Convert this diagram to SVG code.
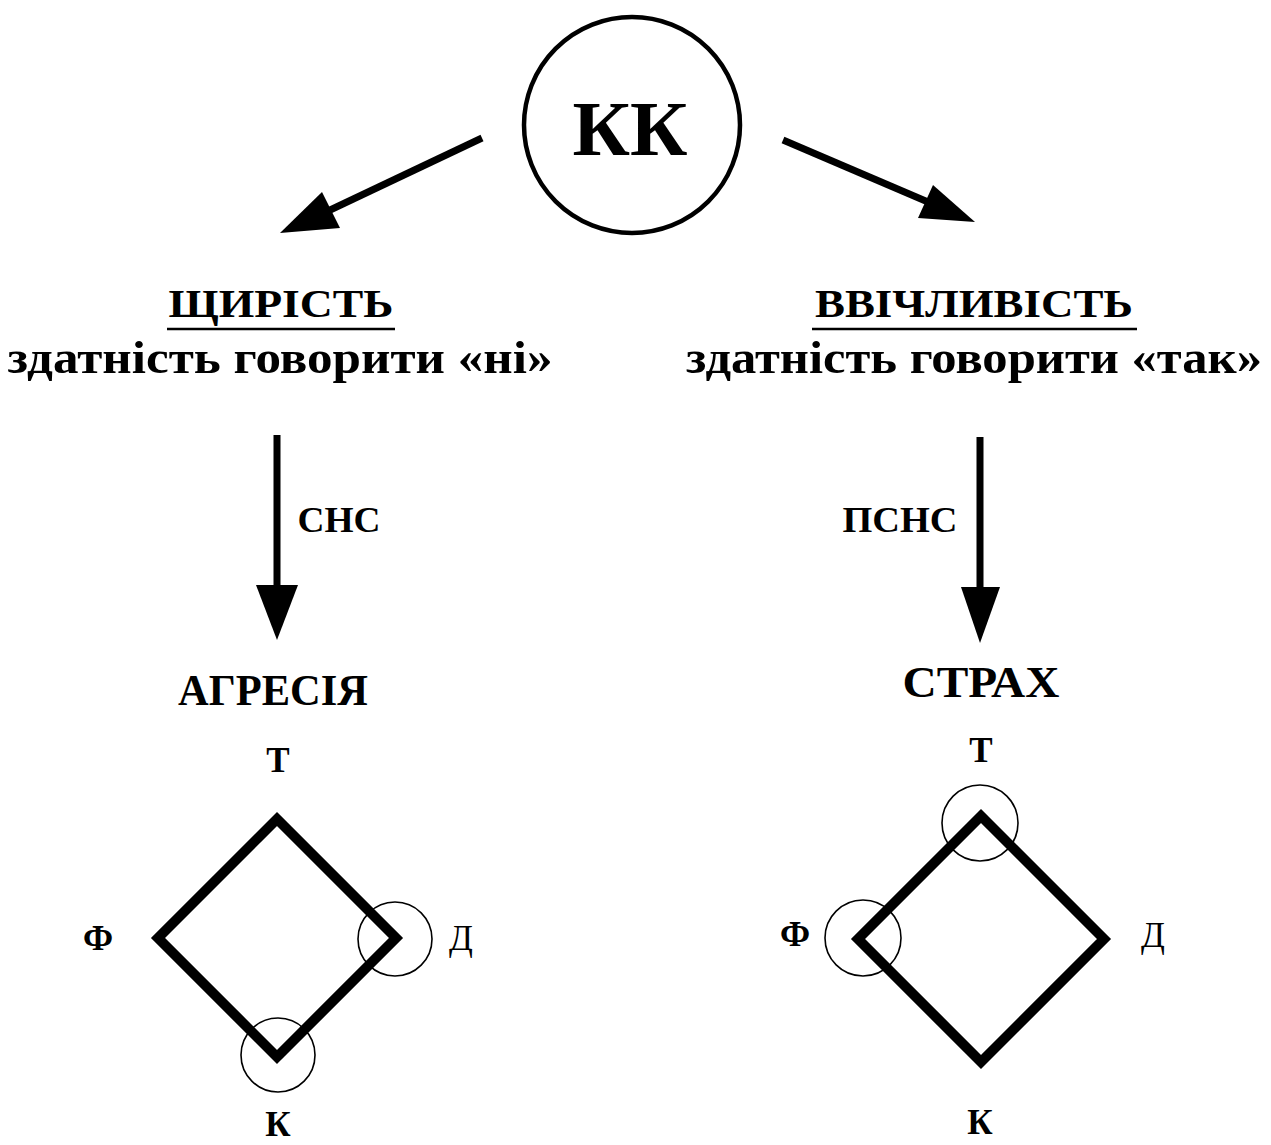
<svg xmlns="http://www.w3.org/2000/svg" width="1271" height="1145" viewBox="0 0 1271 1145">
  <style>
    text { font-family: "Liberation Serif", "DejaVu Serif", serif; font-weight: bold; fill: #000; text-anchor: middle; }
    .title { font-size: 41px; }
    .sub { font-size: 47px; }
    .lbl { font-size: 36px; }
    .state { font-size: 44px; }
    .corner { font-size: 35px; }
    .plain { font-weight: normal; }
    .shaft { stroke: #000; stroke-width: 7; fill: none; }
    .head { fill: #000; stroke: none; }
    .rule { stroke: #000; stroke-width: 2.5; }
    .square { fill: none; stroke: #000; stroke-width: 10; stroke-linejoin: miter; }
    .mark { fill: none; stroke: #000; stroke-width: 1.6; }
  </style>
  <rect width="1271" height="1145" fill="#fff"/>

  <!-- root node -->
  <g id="kk">
    <circle cx="632" cy="125" r="108" fill="none" stroke="#000" stroke-width="4.5"/>
    <text x="630" y="155" font-size="78" textLength="115" lengthAdjust="spacingAndGlyphs">КК</text>
  </g>

  <!-- sincerity branch -->
  <g id="sincerity">
    <text class="title" x="281" y="317" textLength="225" lengthAdjust="spacingAndGlyphs">ЩИРІСТЬ</text>
    <line class="rule" x1="167" y1="329" x2="395" y2="329"/>
    <text class="sub" x="280" y="373" textLength="545" lengthAdjust="spacingAndGlyphs">здатність говорити «ні»</text>
  </g>

  <!-- politeness branch -->
  <g id="politeness">
    <text class="title" x="974" y="317" textLength="318" lengthAdjust="spacingAndGlyphs">ВВІЧЛИВІСТЬ</text>
    <line class="rule" x1="812" y1="329" x2="1137" y2="329"/>
    <text class="sub" x="974" y="373" textLength="576" lengthAdjust="spacingAndGlyphs">здатність говорити «так»</text>
  </g>

  <g id="aggression">
    <text class="state" x="273" y="705" textLength="190" lengthAdjust="spacingAndGlyphs">АГРЕСІЯ</text>
  </g>

  <g id="fear">
    <text class="state" x="981" y="697" textLength="157" lengthAdjust="spacingAndGlyphs">СТРАХ</text>
  </g>

  <!-- left square: Д and К marked -->
  <g id="square-left">
    <polygon class="square" points="277,819 396,938 277,1057 158,938"/>
    <circle class="mark" cx="395" cy="939" r="37"/>
    <circle class="mark" cx="278" cy="1055" r="37"/>
    <text class="corner" x="278" y="772">Т</text>
    <text class="corner" x="98" y="950">Ф</text>
    <text class="corner plain" x="461" y="950">Д</text>
    <text class="corner" x="278" y="1136">К</text>
  </g>

  <!-- right square: Т and Ф marked -->
  <g id="square-right">
    <polygon class="square" points="981,816 1104,939 981,1062 858,939"/>
    <circle class="mark" cx="980" cy="823" r="38"/>
    <circle class="mark" cx="863" cy="938" r="38"/>
    <text class="corner" x="981" y="762">Т</text>
    <text class="corner" x="795" y="946">Ф</text>
    <text class="corner plain" x="1153" y="947">Д</text>
    <text class="corner" x="980" y="1134">К</text>
  </g>

  <!-- connectors -->
  <g id="connectors">
    <line class="shaft" x1="482" y1="138" x2="328" y2="211"/>
    <polygon class="head" points="280,233 322,192 340,228"/>

    <line class="shaft" x1="783" y1="140" x2="928" y2="202"/>
    <polygon class="head" points="975,222 933,185 918,218"/>

    <line class="shaft" x1="277" y1="435" x2="277" y2="590"/>
    <polygon class="head" points="256,585 298,585 277,640"/>
    <text class="lbl" x="339" y="532" textLength="83" lengthAdjust="spacingAndGlyphs">СНС</text>

    <line class="shaft" x1="980" y1="437" x2="980" y2="592"/>
    <polygon class="head" points="961,587 1000,587 980,643"/>
    <text class="lbl" x="900" y="532" textLength="115" lengthAdjust="spacingAndGlyphs">ПСНС</text>
  </g>
</svg>
